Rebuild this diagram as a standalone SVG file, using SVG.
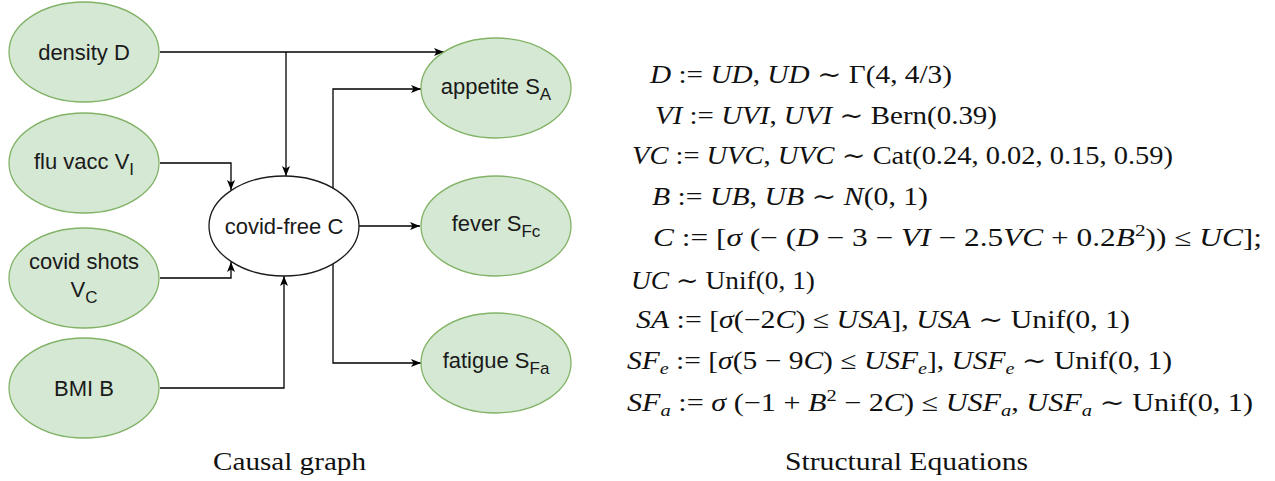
<svg xmlns="http://www.w3.org/2000/svg" width="1275" height="481" viewBox="0 0 1275 481">
<style>
.node{fill:#d5e8d4;stroke:#82b366;stroke-width:1.3}
.white{fill:#ffffff;stroke:#1a1a1a;stroke-width:1.3}
.lbl{font-family:"Liberation Sans",Arial,sans-serif;font-size:22px;fill:#1a1a1a;text-anchor:middle}
.sub{font-size:17px}
.edge{fill:none;stroke:#000;stroke-width:1.3}
.eq{font-family:"Liberation Serif","DejaVu Serif",serif;font-size:25px;fill:#111}
.i{font-style:italic}
.cap{font-family:"Liberation Serif",serif;font-size:26px;fill:#111;text-anchor:middle}
</style>
<defs>
<marker id="arr" viewBox="0 0 10 8" refX="10" refY="4" markerWidth="10" markerHeight="8" markerUnits="userSpaceOnUse" orient="auto">
<path d="M0,0 L10,4 L0,8 L2.5,4 z" fill="#000"/>
</marker>
</defs>
<rect width="1275" height="481" fill="#fff"/>

<g id="connectors">
<path class="edge" d="M160,52 H444" marker-end="url(#arr)"/>
<path class="edge" d="M286,52 V176" marker-end="url(#arr)"/>
<path class="edge" d="M160,163 H231 V190" marker-end="url(#arr)"/>
<path class="edge" d="M160,278 H231 V262" marker-end="url(#arr)"/>
<path class="edge" d="M160,388 H284 V276" marker-end="url(#arr)"/>
<path class="edge" d="M333,188 V89 H421" marker-end="url(#arr)"/>
<path class="edge" d="M359,226 H420" marker-end="url(#arr)"/>
<path class="edge" d="M333,264 V363 H421" marker-end="url(#arr)"/>
</g>

<g id="node-density">
<ellipse class="node" cx="84" cy="52" rx="75" ry="50"/>
<text class="lbl" x="84" y="60">density D</text>
</g>
<g id="node-flu">
<ellipse class="node" cx="84" cy="163" rx="75" ry="50"/>
<text class="lbl" x="84" y="169">flu vacc V<tspan class="sub" dy="6">I</tspan></text>
</g>
<g id="node-covidshots">
<ellipse class="node" cx="84" cy="278" rx="75" ry="50"/>
<text class="lbl" x="84" y="269">covid shots</text>
<text class="lbl" x="84" y="297">V<tspan class="sub" dy="6">C</tspan></text>
</g>
<g id="node-bmi">
<ellipse class="node" cx="84" cy="388" rx="75" ry="50"/>
<text class="lbl" x="84" y="396">BMI B</text>
</g>
<g id="node-covidfree">
<ellipse class="white" cx="284" cy="226" rx="75" ry="50"/>
<text class="lbl" x="284" y="234">covid-free C</text>
</g>
<g id="node-appetite">
<ellipse class="node" cx="496" cy="88" rx="75" ry="50"/>
<text class="lbl" x="496" y="94">appetite S<tspan class="sub" dy="6">A</tspan></text>
</g>
<g id="node-fever">
<ellipse class="node" cx="496" cy="226" rx="75" ry="50"/>
<text class="lbl" x="496" y="231">fever S<tspan class="sub" dy="6">Fc</tspan></text>
</g>
<g id="node-fatigue">
<ellipse class="node" cx="496" cy="363" rx="75" ry="50"/>
<text class="lbl" x="496" y="368">fatigue S<tspan class="sub" dy="6">Fa</tspan></text>
</g>

<g id="equations">
<text class="eq" x="650" y="83" textLength="302" lengthAdjust="spacingAndGlyphs"><tspan class="i">D</tspan> := <tspan class="i">UD</tspan>, <tspan class="i">UD</tspan> ∼ Γ(4, 4/3)</text>
<text class="eq" x="655" y="124" textLength="342" lengthAdjust="spacingAndGlyphs"><tspan class="i">VI</tspan> := <tspan class="i">UVI</tspan>, <tspan class="i">UVI</tspan> ∼ Bern(0.39)</text>
<text class="eq" x="632" y="164" textLength="541" lengthAdjust="spacingAndGlyphs"><tspan class="i">VC</tspan> := <tspan class="i">UVC</tspan>, <tspan class="i">UVC</tspan> ∼ Cat(0.24, 0.02, 0.15, 0.59)</text>
<text class="eq" x="652" y="205" textLength="276" lengthAdjust="spacingAndGlyphs"><tspan class="i">B</tspan> := <tspan class="i">UB</tspan>, <tspan class="i">UB</tspan> ∼ <tspan class="i">N</tspan>(0, 1)</text>
<text class="eq" x="653" y="246" textLength="609" lengthAdjust="spacingAndGlyphs"><tspan class="i">C</tspan> := [<tspan class="i">σ</tspan> (− (<tspan class="i">D</tspan> − 3 − <tspan class="i">VI</tspan> − 2.5<tspan class="i">VC</tspan> + 0.2<tspan class="i">B</tspan><tspan font-size="17" dy="-10">2</tspan><tspan dy="10">)) ≤ </tspan><tspan class="i">UC</tspan>];</text>
<text class="eq" x="631" y="289" textLength="184" lengthAdjust="spacingAndGlyphs"><tspan class="i">UC</tspan> ∼ Unif(0, 1)</text>
<text class="eq" x="636" y="328" textLength="494" lengthAdjust="spacingAndGlyphs"><tspan class="i">SA</tspan> := [<tspan class="i">σ</tspan>(−2<tspan class="i">C</tspan>) ≤ <tspan class="i">USA</tspan>], <tspan class="i">USA</tspan> ∼ Unif(0, 1)</text>
<text class="eq" x="627" y="369" textLength="545" lengthAdjust="spacingAndGlyphs"><tspan class="i">SF</tspan><tspan class="i" font-size="17" dy="5">e</tspan><tspan dy="-5"> := [</tspan><tspan class="i">σ</tspan>(5 − 9<tspan class="i">C</tspan>) ≤ <tspan class="i">USF</tspan><tspan class="i" font-size="17" dy="5">e</tspan><tspan dy="-5">], </tspan><tspan class="i">USF</tspan><tspan class="i" font-size="17" dy="5">e</tspan><tspan dy="-5"> ∼ Unif(0, 1)</tspan></text>
<text class="eq" x="627" y="411" textLength="626" lengthAdjust="spacingAndGlyphs"><tspan class="i">SF</tspan><tspan class="i" font-size="17" dy="5">a</tspan><tspan dy="-5"> := </tspan><tspan class="i">σ</tspan> (−1 + <tspan class="i">B</tspan><tspan font-size="17" dy="-10">2</tspan><tspan dy="10"> − 2</tspan><tspan class="i">C</tspan>) ≤ <tspan class="i">USF</tspan><tspan class="i" font-size="17" dy="5">a</tspan><tspan dy="-5">, </tspan><tspan class="i">USF</tspan><tspan class="i" font-size="17" dy="5">a</tspan><tspan dy="-5"> ∼ Unif(0, 1)</tspan></text>
</g>

<g id="captions">
<text class="cap" x="289.5" y="470" textLength="153" lengthAdjust="spacingAndGlyphs">Causal graph</text>
<text class="cap" x="906.5" y="470" textLength="243" lengthAdjust="spacingAndGlyphs">Structural Equations</text>
</g>
</svg>
